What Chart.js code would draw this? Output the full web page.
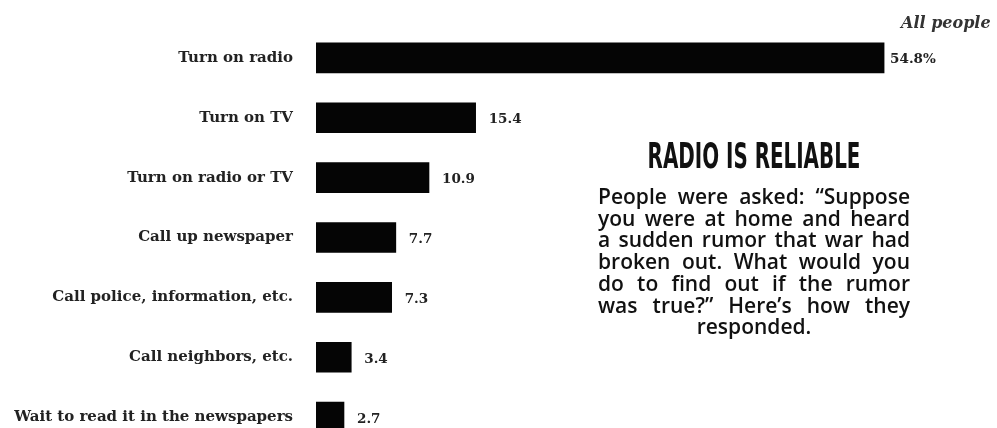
<!DOCTYPE html>
<html>
<head>
<meta charset="utf-8">
<script src="https://cdn.jsdelivr.net/npm/chart.js@4"></script>
<style>
  html, body { margin: 0; padding: 0; background: #fff; overflow: hidden; }
  #wrap { position: relative; width: 997px; height: 428px; overflow: hidden; }
  #chartBox { position: absolute; left: 0; top: 0; width: 997px; height: 448px; }
  #title { position: absolute; left: 573.5px; top: 138px; width: 360px; margin: 0; text-align: center; color: #111;
           font: bold 36px "DejaVu Sans Condensed", sans-serif; line-height: 36px;
           transform: scaleX(0.614); white-space: nowrap; }
  #note { position: absolute; left: 598px; top: 186px; width: 312px; color: #111; }
  #note .ln { font: 600 21px "Open Sans", sans-serif; line-height: 21.7px; text-align: justify; text-align-last: justify; white-space: nowrap; }
  #note .ln.last { text-align: center; text-align-last: center; }
  #allPeople { position: absolute; left: 901px; top: 13px; font: italic bold 16px "DejaVu Serif", serif; color: #333; }
</style>
</head>
<body>
<div id="wrap">
  <div id="chartBox"><canvas id="chart"></canvas></div>
  <div id="allPeople">All people</div>
  <h2 id="title">RADIO IS RELIABLE</h2>
  <div id="note">
    <div class="ln">People were asked: “Suppose</div>
    <div class="ln">you were at home and heard</div>
    <div class="ln">a sudden rumor that war had</div>
    <div class="ln">broken out. What would you</div>
    <div class="ln">do to find out if the rumor</div>
    <div class="ln">was true?” Here’s how they</div>
    <div class="ln last">responded.</div>
  </div>
</div>
<script>
// What people would do on hearing a war rumor, percent of all people
const answers = ["Turn on radio", "Turn on TV", "Turn on radio or TV", "Call up newspaper",
                 "Call police, information, etc.", "Call neighbors, etc.", "Wait to read it in the newspapers"];
const shares = [54.8, 15.4, 10.9, 7.7, 7.3, 3.4, 2.7];
const shareLabels = ["54.8%", "15.4", "10.9", "7.7", "7.3", "3.4", "2.7"];

const serif = "'DejaVu Serif', serif";

// writes the number just past the end of each bar
const valueLabels = {
    id: "valueLabels",
    afterDatasetsDraw(chart){
        const ctx = chart.ctx;
        const x = chart.scales.x, y = chart.scales.y;
        ctx.save();
        ctx.font = "bold 13.5px " + serif;
        ctx.fillStyle = "#222";
        ctx.textBaseline = "middle";
        shares.forEach((v, i) => {
            const gap = i === 0 ? 6 : 13;
            ctx.fillText(shareLabels[i], x.getPixelForValue(v) + gap, y.getPixelForValue(i) + 2);
        });
        ctx.restore();
    }
};

new Chart(document.getElementById("chart"), {
    type: "bar",
    data: {
        labels: answers,
        datasets: [{ data: shares, backgroundColor: "#050505", barThickness: 30 }]
    },
    options: {
        indexAxis: "y",
        responsive: true,
        maintainAspectRatio: false,
        animation: false,
        layout: { padding: { top: 28, bottom: 1, right: 59, left: 0 } },
        plugins: { legend: { display: false }, tooltip: { enabled: false } },
        scales: {
            x: { display: false, min: 0, max: 60 },
            y: {
                grid: { display: false, drawTicks: false },
                border: { display: false },
                // fixed label column; no extra room above/below for the tick text
                afterFit(scale){
                    scale.width = 316;
                    scale.paddingTop = 0;
                    scale.paddingBottom = 0;
                },
                ticks: { padding: 23, color: "#222", font: { family: serif, size: 15, weight: "bold" } }
            }
        }
    },
    plugins: [valueLabels]
});
</script>
</body>
</html>
